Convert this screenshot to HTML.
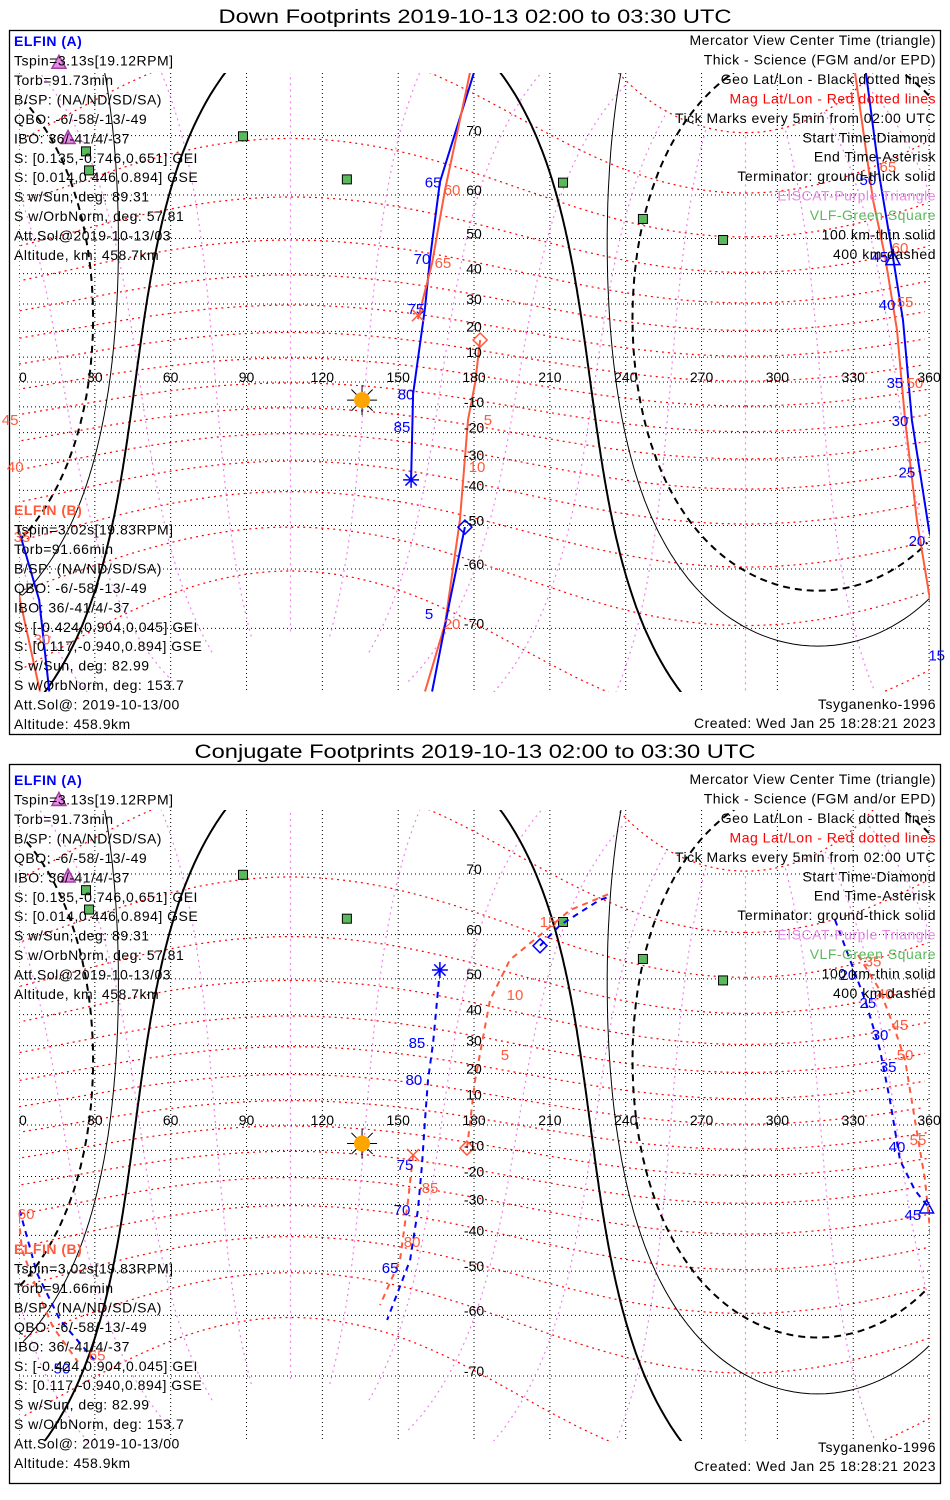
<!DOCTYPE html>
<html><head><meta charset="utf-8"><style>
html,body{margin:0;padding:0;background:#fff;overflow:hidden;}
svg{display:block;font-family:"Liberation Sans",sans-serif;}
</style></head><body>
<svg id="chart" width="950" height="1500" viewBox="0 0 950 1500" xmlns="http://www.w3.org/2000/svg">
<defs>
<clipPath id="clipTop"><rect x="19" y="73" width="911" height="619"/></clipPath>
<clipPath id="clipBot"><rect x="19" y="810" width="911" height="631"/></clipPath>
</defs>
<rect width="950" height="1500" fill="#fff"/>
<text x="475" y="23" font-size="19" text-anchor="middle" textLength="513" lengthAdjust="spacingAndGlyphs">Down Footprints 2019-10-13 02:00 to 03:30 UTC</text>
<rect x="9.5" y="30.5" width="931" height="704" fill="none" stroke="#000" stroke-width="1.3"/>
<text x="475" y="758" font-size="19" text-anchor="middle" textLength="561" lengthAdjust="spacingAndGlyphs">Conjugate Footprints 2019-10-13 02:00 to 03:30 UTC</text>
<rect x="9.5" y="764.5" width="931" height="719" fill="none" stroke="#000" stroke-width="1.3"/>
<g id="layers"></g>
</svg>
<script>
// ---------- data ----------
const subsolarLat = -7.6, subsolarLon = 136;
const terminatorAngles = [90, 100.1, 108.3];
const magPoleLat = 80.4, magPoleLon = 287.4;
const magLatLevels = [-70,-60,-50,-40,-30,-20,-10,0,10,20,30,40,50,60,70,80];
const magLonLevels = [0,30,60,90,120,150,180,210,240,270,300,330];
const geoLatLevels = [-70,-60,-50,-40,-30,-20,-10,0,10,20,30,40,50,60,70];
const geoLonLevels = [0,30,60,90,120,150,180,210,240,270,300,330,360];
const lonTickLabels = ["0","30","60","90","120","150","180","210","240","270","300","330","360"];
const latTickLabels = ["70","60","50","40","30","20","10","-10","-20","-30","-40","-50","-60","-70"];
const latTickValues = [70,60,50,40,30,20,10,-10,-20,-30,-40,-50,-60,-70];
const vlfLon = [88.6,26.5,27.7,129.7,215.2,246.8,278.5];
const vlfLat = [69.9,67.7,64.6,63.0,62.4,54.8,49.6];
const eiscatLon = [15.8,19.4];
const eiscatLat = [77.9,69.6];
const sunLon = 135.7, sunLat = -7.3;

// top panel (down footprints)
const topA_blue_lon = [180,166.5,162.6,160.6,155.9,155.1];
const topA_blue_lat = [77.1,62.5,44.7,28.6,-4.8,-36.7];
const topA_red_lon = [178.4,168.5,163.4,157.8];
const topA_red_lat = [77.1,61,43.2,24.6];
const topB_red_lon = [182.4,180.5,177.6,174.4,168.5,160.6];
const topB_red_lat = [16.7,0,-15.2,-48.6,-69.4,-77.1];
const topB_blue_lon = [176.4,170.5,163.4];
const topB_blue_lat = [-50.4,-65.7,-77.1];
const topR_blue_lon = [335,340.6,345.7,349.7,353.2,356.4,360,368,372];
const topR_blue_lat = [77.1,62.9,45,24.2,-15.2,-34.2,-51.3,-65.7,-77.1];
const topR_red_lon = [330.7,337.8,342.6,347.3,350.5,355.2,360.4,368.3];
const topR_red_lat = [77.1,59,45,20.5,-15.2,-48.6,-65.7,-77.1];
const topBlueLabels = [[163.8,62.4,"65"],[159.4,44.4,"70"],[157,28.3,"75"],[153.1,-5.1,"80"],[151.5,-17.9,"85"],[162.2,-67.9,"5"],
  [335.8,62.9,"50"],[340.6,45,"45"],[343.4,29.6,"40"],[346.5,-0.4,"35"],[348.5,-15.6,"30"],[351.2,-34.2,"25"],[355.2,-53.9,"20"],[363,-73.4,"15"]];
const topRedLabels = [[171.3,61,"60"],[167.7,43.2,"65"],[185.5,-15.2,"5"],[181.2,-32.4,"10"],[171.3,-69.4,"20"],
  [343.7,65.2,"65"],[348.5,47.4,"60"],[350.5,30.7,"55"],[354.4,-0.4,"50"],[-3.5,-15.2,"45"],[-1.5,-32.4,"40"],[1.2,-52.9,"35"],[9.1,-71.5,"30"]];

// bottom panel (conjugate footprints)
const botA_blue_lon = [166.5,163.8,161.8,160.6,159.4,157.8,154.7,145.6];
const botA_blue_lat = [52.2,30.9,17.5,2.0,-15.6,-31.9,-47.1,-60.9];
const botA_red_lon = [155.9,153.9,150.7,142.8];
const botA_red_lat = [-11.8,-28.5,-47.1,-57.9];
const botB_red_lon = [177.2,180.4,186.3,194.2,206.1,218,233.8];
const botB_red_lat = [-9.1,17.5,44.3,54.6,59.9,64.5,67.2];
const botB_blue_lon = [206.1,214,229.8,233.8];
const botB_blue_lat = [57.7,61.8,66.2,66.7];
const botR_blue_lon = [322.8,328.7,334.7,340.6,344.5,348.5,354.4,360,367.1,376.2,390.9];
const botR_blue_lat = [62.8,54.6,44.3,28.5,9.9,-13.8,-25,-31.2,-50.5,-60.9,-68.2];
const botR_red_lon = [331.9,340.6,346.5,350.5,354.4,358.4,361.2,368.3,373.4,383.3];
const botR_red_lat = [55.7,47,35.2,24.9,2,-21.2,-44.3,-56.2,-62.2,-68];
const botBlueLabels = [[157.4,30.9,"85"],[156.2,17.5,"80"],[152.7,-15.6,"75"],[151.5,-31.9,"70"],[146.8,-49.2,"65"],
  [327.9,51,"20"],[335.8,43.4,"25"],[340.6,33.5,"30"],[343.8,22.4,"35"],[347.3,-8.7,"40"],[353.6,-33.6,"45"],[17,-69,"50"]];
const botRedLabels = [[192.2,26.7,"5"],[196.2,45.7,"10"],[209.3,62.4,"15"],[162.6,-24.2,"85"],[155.5,-42,"80"],
  [337.8,54.2,"35"],[342.6,46,"40"],[348.5,36.8,"45"],[350.5,26.7,"50"],[355.6,-6,"55"],[2.8,-33.3,"60"],[30.9,-67,"65"]];

const infoA = ["Tspin=3.13s[19.12RPM]","Torb=91.73min","B/SP: (NA/ND/SD/SA)","QBO: -6/-58/-13/-49","IBO: 36/-41/4/-37","S: [0.135,-0.746,0.651] GEI","S: [0.014,0.446,0.894] GSE","S w/Sun, deg: 89.31","S w/OrbNorm, deg: 57.81","Att.Sol@2019-10-13/03","Altitude, km: 458.7km"];
const infoB = ["Tspin=3.02s[19.83RPM]","Torb=91.66min","B/SP: (NA/ND/SD/SA)","QBO: -6/-58/-13/-49","IBO: 36/-41/4/-37","S: [-0.424,0.904,0.045] GEI","S: [0.117,-0.940,0.894] GSE","S w/Sun, deg: 82.99","S w/OrbNorm, deg: 153.7","Att.Sol@: 2019-10-13/00","Altitude: 458.9km"];
const legendText = ["Mercator View Center Time (triangle)","Thick - Science (FGM and/or EPD)","Geo Lat/Lon - Black dotted lines","Mag Lat/Lon - Red dotted lines","Tick Marks every 5min from 02:00 UTC","Start Time-Diamond","End Time-Asterisk","Terminator: ground-thick solid","EISCAT-Purple Triangle","VLF-Green Square","100 km-thin solid","400 km-dashed"];
const legendColor = ["#000","#000","#000","#ff0000","#000","#000","#000","#000","#e68ae6","#5cb85c","#000","#000"];

// ---------- drawing ----------
const NS = "http://www.w3.org/2000/svg";
const root = document.getElementById("layers");
const D = Math.PI/180;
function mk(tag, attrs, parent){const e=document.createElementNS(NS,tag);for(const k in attrs)e.setAttribute(k,attrs[k]);(parent||root).appendChild(e);return e;}
const panels = [
  {name:"top", y0:382, R:142, clip:"clipTop", top:73, bottom:692, off:0},
  {name:"bottom", y0:1125, R:144.6, clip:"clipBot", top:810, bottom:1441, off:739}
];
function xOf(lon){return 19 + lon*2.528;}
function yOf(P, lat){const l=Math.max(-86,Math.min(86,lat));return P.y0 - P.R*Math.log(Math.tan(Math.PI/4 + l*D/2));}
function pathFromLL(P, lons, lats){
  let d="", prev=null;
  for(let i=0;i<lons.length;i++){
    const x=xOf(lons[i]), y=yOf(P,lats[i]);
    if(prev===null || Math.abs(lons[i]-prev)>180) d+="M"+x.toFixed(1)+","+y.toFixed(1);
    else d+="L"+x.toFixed(1)+","+y.toFixed(1);
    prev=lons[i];
  }
  return d;
}
function mag2geo(mlat, mlon){
  const x=Math.cos(mlat*D)*Math.cos(mlon*D), y=Math.cos(mlat*D)*Math.sin(mlon*D), z=Math.sin(mlat*D);
  const t=(90-magPoleLat)*D;
  const x1=x*Math.cos(t)+z*Math.sin(t), z1=-x*Math.sin(t)+z*Math.cos(t);
  const L=magPoleLon*D;
  const X=x1*Math.cos(L)-y*Math.sin(L), Y=x1*Math.sin(L)+y*Math.cos(L);
  let lon=Math.atan2(Y,X)/D; if(lon<0)lon+=360;
  return [Math.asin(z1)/D, lon];
}
function circlePts(theta){
  const lons=[], lats=[];
  const p1=subsolarLat*D, t=theta*D;
  for(let az=0;az<=360;az+=1){
    const a=az*D;
    const lat2=Math.asin(Math.sin(p1)*Math.cos(t)+Math.cos(p1)*Math.sin(t)*Math.cos(a));
    let lon2=subsolarLon + Math.atan2(Math.sin(a)*Math.sin(t)*Math.cos(p1), Math.cos(t)-Math.sin(p1)*Math.sin(lat2))/D;
    lon2=((lon2%360)+360)%360;
    lons.push(lon2); lats.push(lat2/D);
  }
  return [lons,lats];
}

panels.forEach(P=>{
  const g = mk("g",{"clip-path":"url(#"+P.clip+")"});
  
  
  geoLatLevels.forEach(lat=>{
    const y=yOf(P,lat);
    const l=mk("line",{x1:19,x2:930,y1:y,y2:y,stroke:"#000","stroke-width":1,"stroke-dasharray":"1 3"},g);
    
    
  });
  geoLonLevels.forEach(lon=>{
    const x=xOf(lon);
    const l=mk("line",{x1:x,x2:x,y1:P.top,y2:P.bottom,stroke:"#000","stroke-width":1,"stroke-dasharray":"1 3"},g);
    
    
  });
  magLatLevels.forEach(ml=>{
    const lons=[],lats=[];
    for(let m=0;m<=360;m+=2){const r=mag2geo(ml,m);lats.push(r[0]);lons.push(r[1]);}
    const p=mk("path",{d:pathFromLL(P,lons,lats),fill:"none",stroke:"#ff0000","stroke-width":1.2,"stroke-dasharray":"2 4"},g);
    
    
  });
  magLonLevels.forEach(ml=>{
    const lons=[],lats=[];
    for(let m=-80;m<=80;m+=2){const r=mag2geo(m,ml);lats.push(r[0]);lons.push(r[1]);}
    const p=mk("path",{d:pathFromLL(P,lons,lats),fill:"none",stroke:"#ee82ee","stroke-width":1.2,"stroke-dasharray":"2 4"},g);
    
    
  });
  terminatorAngles.forEach((th,i)=>{
    const c=circlePts(th);
    const attrs={d:pathFromLL(P,c[0],c[1]),fill:"none",stroke:"#000","stroke-width":i===0?2:1};
    if(i===2){attrs["stroke-width"]=2;attrs["stroke-dasharray"]="7 5";}
    const p=mk("path",attrs,g);
    
    
  });
  vlfLon.forEach((lon,i)=>{
    const x=xOf(lon), y=yOf(P,vlfLat[i]);
    const r=mk("rect",{x:x-4.5,y:y-4.5,width:9,height:9,fill:"#5cb85c",stroke:"#000","stroke-width":1},g);
    
    
  });
});

function drawTrack(P, lons, lats, color, dashed, name){
  const g = mk("g",{"clip-path":"url(#"+P.clip+")"});
  [0,-360].forEach(sh=>{
    const ls=lons.map(v=>v+sh);
    let d=""; ls.forEach((lon,i)=>{d+=(i?"L":"M")+xOf(lon).toFixed(1)+","+yOf(P,lats[i]).toFixed(1);});
    const attrs={d:d,fill:"none",stroke:color,"stroke-width":2};
    if(dashed)attrs["stroke-dasharray"]="6 5";
    const p=mk("path",attrs,g);
    
    
  });
}
function drawLabels(P, arr, color, name){
  arr.forEach(a=>{
    const t=mk("text",{x:xOf(a[0]),y:yOf(P,a[1])+5,fill:color,"font-size":15,"text-anchor":"middle"});
    t.textContent=a[2];
    
    
  });
}
const BLUE="#0000ff", SAL="#ff5a3c";
const PT=panels[0], PB=panels[1];
drawTrack(PT, topA_blue_lon, topA_blue_lat, BLUE, false, "elfin-a-track");
drawTrack(PT, topA_red_lon, topA_red_lat, SAL, false, "elfin-b-track");
drawTrack(PT, topB_red_lon, topB_red_lat, SAL, false, "elfin-b-track");
drawTrack(PT, topB_blue_lon, topB_blue_lat, BLUE, false, "elfin-a-track");
drawTrack(PT, topR_blue_lon, topR_blue_lat, BLUE, false, "elfin-a-track");
drawTrack(PT, topR_red_lon, topR_red_lat, SAL, false, "elfin-b-track");
drawTrack(PB, botA_blue_lon, botA_blue_lat, BLUE, true, "elfin-a-conjugate-track");
drawTrack(PB, botA_red_lon, botA_red_lat, SAL, true, "elfin-b-conjugate-track");
drawTrack(PB, botB_red_lon, botB_red_lat, SAL, true, "elfin-b-conjugate-track");
drawTrack(PB, botB_blue_lon, botB_blue_lat, BLUE, true, "elfin-a-conjugate-track");
drawTrack(PB, botR_blue_lon, botR_blue_lat, BLUE, true, "elfin-a-conjugate-track");
drawTrack(PB, botR_red_lon, botR_red_lat, SAL, true, "elfin-b-conjugate-track");
drawLabels(PT, topBlueLabels, BLUE, "tick-label-a");
drawLabels(PT, topRedLabels, SAL, "tick-label-b");
drawLabels(PB, botBlueLabels, BLUE, "tick-label-a");
drawLabels(PB, botRedLabels, SAL, "tick-label-b");

function diamond(P,lon,lat,color){const x=xOf(lon),y=yOf(P,lat);const p=mk("path",{d:`M${x},${y-7}L${x+7},${y}L${x},${y+7}L${x-7},${y}Z`,fill:"none",stroke:color,"stroke-width":1.5});
  
  }
function asterisk(P,lon,lat,color){const x=xOf(lon),y=yOf(P,lat);let d="";for(let a=0;a<180;a+=45){const c=Math.cos(a*D)*8,s=Math.sin(a*D)*8;d+=`M${x-c},${y-s}L${x+c},${y+s}`;}
  const p=mk("path",{d:d,stroke:color,"stroke-width":1.5});
  
  }
function xmark(P,lon,lat,color){const x=xOf(lon),y=yOf(P,lat);const p=mk("path",{d:`M${x-6},${y-6}L${x+6},${y+6}M${x+6},${y-6}L${x-6},${y+6}`,stroke:color,"stroke-width":1.5});
  
  }
function tri(P,lon,lat,color,fill,name){const x=xOf(lon),y=yOf(P,lat);const p=mk("path",{d:`M${x},${y-8}L${x+7},${y+5}L${x-7},${y+5}Z`,fill:fill,stroke:color,"stroke-width":1.5});
  
  }
diamond(PT,182.4,16.7,SAL); diamond(PT,176.4,-50.4,BLUE);
asterisk(PT,155.1,-36.7,BLUE); xmark(PT,157.8,26,SAL);
tri(PT,345.7,44.2,BLUE,"none","center-time-triangle");
diamond(PB,177.2,-9.1,SAL); diamond(PB,206.1,57.7,BLUE);
asterisk(PB,166.5,52.2,BLUE); xmark(PB,155.9,-11.8,SAL);
tri(PB,359,-31.2,BLUE,"none","center-time-triangle");
panels.forEach(P=>{
  eiscatLon.forEach((lon,i)=>tri(P,lon,eiscatLat[i],"#a040a0","#e68ae6","eiscat-station"));
  const x=xOf(sunLon), y=yOf(P,sunLat);
  let d="";for(let a=0;a<360;a+=45){d+=`M${x+Math.cos(a*D)*8},${y+Math.sin(a*D)*8}L${x+Math.cos(a*D)*15},${y+Math.sin(a*D)*15}`;}
  const rays=mk("path",{d:d,stroke:"#000","stroke-width":1});
  
  
  const s=mk("circle",{cx:x,cy:y,r:8,fill:"#ffa500"});
  
  
  lonTickLabels.forEach((t,i)=>{
    const e=mk("text",{x:xOf(geoLonLevels[i]),y:P.y0,"font-size":14,"text-anchor":i===0?"start":"middle"});
    e.textContent=t;
    
    
  });
  latTickLabels.forEach((t,i)=>{
    const e=mk("text",{x:xOf(180),y:yOf(P,latTickValues[i]),"font-size":14,"text-anchor":"middle"});
    e.textContent=t;
    
    
  });
  const base = P.off===0 ? 0 : 739;
  const F = {"font-size":14,"letter-spacing":"0.5"};
  const ha=mk("text",Object.assign({x:14,y:46+base,"font-weight":"bold",fill:BLUE},F));
  ha.textContent="ELFIN (A)";
  
  
  infoA.forEach((t,i)=>{const e=mk("text",Object.assign({x:14,y:65.5+i*19.45+base},F));e.textContent=t;
    
    });
  const hb=mk("text",Object.assign({x:14,y:515+base,"font-weight":"bold",fill:SAL},F));
  hb.textContent="ELFIN (B)";
  
  
  infoB.forEach((t,i)=>{const e=mk("text",Object.assign({x:14,y:534.5+i*19.45+base},F));e.textContent=t;
    
    });
  legendText.forEach((t,i)=>{const e=mk("text",Object.assign({x:936,y:45+i*19.45+base,"text-anchor":"end",fill:legendColor[i]},F));e.textContent=t;
    
    });
  const ts=mk("text",Object.assign({x:936,y:709+base+(P.off?4:0),"text-anchor":"end"},F));
  ts.textContent="Tsyganenko-1996";
  
  
  const cr=mk("text",Object.assign({x:936,y:728+base+(P.off?4:0),"text-anchor":"end"},F));
  cr.textContent="Created: Wed Jan 25 18:28:21 2023";
  
  
});
</script>
</body></html>
